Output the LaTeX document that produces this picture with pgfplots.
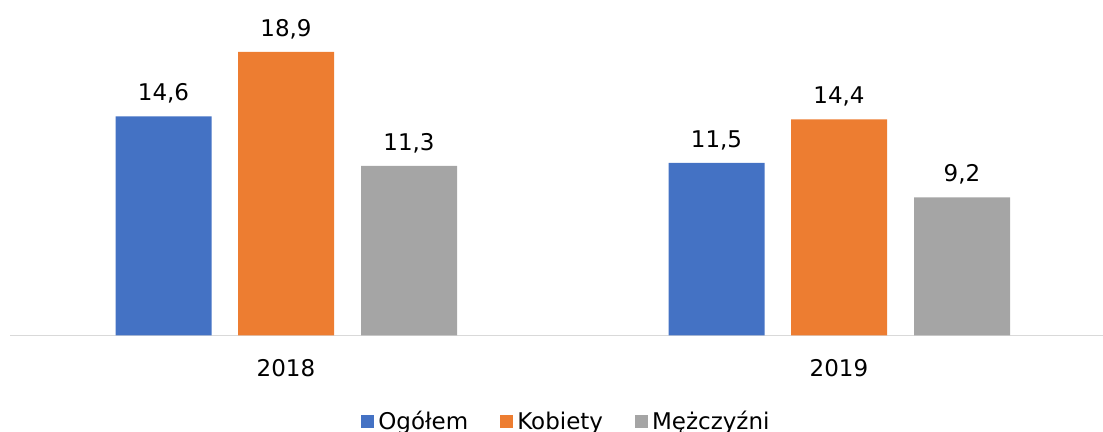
\documentclass[border=0pt]{standalone}
\usepackage{pgfplots}
\pgfplotsset{compat=1.18}
\usepackage{fontspec}
\setmainfont{DejaVu Sans}
\definecolor{cogol}{HTML}{4472C4}
\definecolor{ckob}{HTML}{ED7D31}
\definecolor{cmez}{HTML}{A5A5A5}
\definecolor{caxis}{HTML}{D9D9D9}

\begin{document}
\begin{tikzpicture}
\begin{axis}[
  scale only axis, width=546.5pt, height=165pt,
  xmin=-0.4991, xmax=1.4774, ymin=0, ymax=22,
  axis x line*=bottom, axis y line=none,
  x axis line style={caxis, line width=0.9pt, -},
  xtick={0,1}, xticklabels={2018,2019}, major tick length=0pt,
  tick label style={font=\fontsize{11.5}{13}\selectfont, text=black},
  xticklabel style={yshift=-8.5pt},
  ybar, bar width=48pt,
  nodes near coords,
  nodes near coords style={font=\fontsize{11.5}{13}\selectfont, text=black, yshift=3pt,
    /pgf/number format/.cd, fixed, fixed zerofill, precision=1, use comma, assume math mode=true},
  legend style={at={(0.51,-0.262)}, anchor=center, draw=none, fill=none,
    font=\fontsize{11.5}{13}\selectfont, legend columns=3,
    /tikz/every even column/.append style={column sep=14pt}},
  legend image code/.code={\fill[#1] (0pt,-3.25pt) rectangle (6.5pt,3.25pt);},
]
\addplot[fill=cogol, draw=none, bar shift=-61.25pt] coordinates {(0,14.6) (1,11.5)};
\addplot[fill=ckob, draw=none, bar shift=0pt] coordinates {(0,18.9) (1,14.4)};
\addplot[fill=cmez, draw=none, bar shift=61.5pt] coordinates {(0,11.3) (1,9.2)};
\legend{Ogółem, Kobiety, Mężczyźni}
\end{axis}
\pgfresetboundingbox
\path[use as bounding box] ([xshift=-5pt,yshift=2.75pt]current axis.north west) rectangle ([yshift=-48.25pt]current axis.south east);
\end{tikzpicture}
\end{document}
